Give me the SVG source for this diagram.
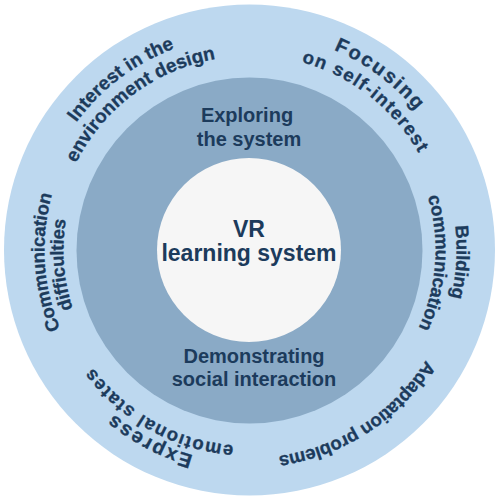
<svg xmlns="http://www.w3.org/2000/svg" width="499" height="500" viewBox="0 0 499 500">
<style>
text{font-family:"Liberation Sans",Arial,sans-serif;font-weight:bold;fill:#1c3b5c}
.c{font-size:20px;text-anchor:middle}
.v{font-size:23px;text-anchor:middle}
.r{font-size:18.5px;text-anchor:middle;letter-spacing:-0.2px;stroke:#1c3b5c;stroke-width:0.3px}
.t{font-size:19px;letter-spacing:0}
.b{font-size:20px;text-anchor:middle;letter-spacing:2px;stroke:#1c3b5c;stroke-width:0.3px}
.s{letter-spacing:1.3px}
</style>
<defs>
<path id="p217" d="M249.5,33 A217,217 0 1 1 249.5,467 A217,217 0 1 1 249.5,33"/>
<path id="p215" d="M249.5,35 A215,215 0 1 1 249.5,465 A215,215 0 1 1 249.5,35"/>
<path id="p213" d="M249.5,37 A213,213 0 1 1 249.5,463 A213,213 0 1 1 249.5,37"/>
<path id="p208" d="M249.5,42 A208,208 0 1 1 249.5,458 A208,208 0 1 1 249.5,42"/>
<path id="p207" d="M249.5,43 A207,207 0 1 1 249.5,457 A207,207 0 1 1 249.5,43"/>
<path id="p205" d="M249.5,45 A205,205 0 1 1 249.5,455 A205,205 0 1 1 249.5,45"/>
<path id="p196" d="M249.5,54 A196,196 0 1 1 249.5,446 A196,196 0 1 1 249.5,54"/>
<path id="p195" d="M249.5,55 A195,195 0 1 1 249.5,445 A195,195 0 1 1 249.5,55"/>
<path id="p194" d="M249.5,56 A194,194 0 1 1 249.5,444 A194,194 0 1 1 249.5,56"/>
<path id="p186" d="M249.5,64 A186,186 0 1 1 249.5,436 A186,186 0 1 1 249.5,64"/>
</defs>
<g id="outer-ring">
<circle cx="249.5" cy="250" r="245.5" fill="#bdd8ef"/>
</g>
<g id="middle-ring">
<circle cx="249.5" cy="250.5" r="173" fill="#8aaac6"/>
</g>
<g id="core">
<circle cx="249" cy="250" r="92" fill="#f6f6f6"/>
<text class="v" x="249" y="237">VR</text>
<text class="v" x="249" y="261">learning system</text>
</g>
<g id="exploring">
<text class="c" x="247" y="122">Exploring</text>
<text class="c" x="249" y="146">the system</text>
</g>
<g id="demonstrating">
<text class="c" x="254" y="363">Demonstrating</text>
<text class="c" x="254" y="386">social interaction</text>
</g>
<g id="interest">
<text class="r t"><textPath href="#p215" startOffset="89.72%">Interest in the</textPath></text>
<text class="r t"><textPath href="#p194" startOffset="89.8%">environment design</textPath></text>
</g>
<g id="focusing">
<text class="b"><textPath href="#p217" startOffset="10.19%">Focusing</textPath></text>
<text class="r s"><textPath href="#p195" startOffset="10.56%">on self-interest</textPath></text>
</g>
<g id="building">
<text class="r"><textPath href="#p207" startOffset="25.92%">Building</textPath></text>
<text class="r"><textPath href="#p186" startOffset="26.11%">communication</textPath></text>
</g>
<g id="adaptation">
<text class="r"><textPath href="#p208" startOffset="40.83%">Adaptation problems</textPath></text>
</g>
<g id="express">
<text class="b"><textPath href="#p213" startOffset="57.69%">Express</textPath></text>
<text class="r s"><textPath href="#p196" startOffset="58.06%">emotional states</textPath></text>
</g>
<g id="communication">
<text class="r"><textPath href="#p205" startOffset="74.03%">Communication</textPath></text>
<text class="r"><textPath href="#p186" startOffset="73.75%">difficulties</textPath></text>
</g>
<g id="connectors"/>
</svg>
